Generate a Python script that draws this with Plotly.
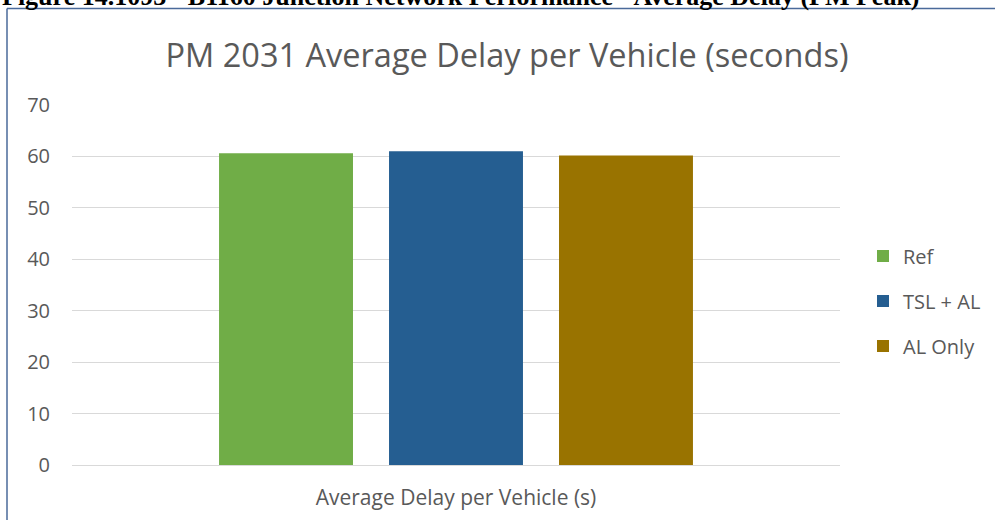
import plotly.graph_objects as go

categories = ["Average Delay per Vehicle (s)"]
series_names = ["Ref", "TSL + AL", "AL Only"]
series_values = [[60.6], [61.0], [60.2]]
colors = ["#70ad47", "#255e91", "#997300"]
y_ticks = [0, 10, 20, 30, 40, 50, 60, 70]

W, H = 995, 520
L, R, T, B = 72, 155, 105, 55
PW, PH = W - L - R, H - T - B

def px(x):
    return (x - L) / PW

def py(y):
    return (H - B - y) / PH

fig = go.Figure()
for name, vals, col in zip(series_names, series_values, colors):
    fig.add_trace(go.Bar(x=categories, y=vals, name=name, marker_color=col,
                         marker_line_width=0, legendgroup=name))

font_fam = "Open Sans, Noto Sans, sans-serif"
fig.update_layout(
    width=W, height=H,
    margin=dict(l=L, r=R, t=T, b=B, autoexpand=False),
    paper_bgcolor="white", plot_bgcolor="white",
    barmode="group", bargap=0.336, bargroupgap=0.212,
    title=dict(text="PM 2031 Average Delay per Vehicle (seconds)",
               x=507 / W, xanchor="center", y=1 - 56 / H, yanchor="middle",
               font=dict(family=font_fam, size=32.5, color="#595959")),
    font=dict(family=font_fam, color="#595959"),
    legend=dict(x=px(863), xanchor="left", y=py(301), yanchor="middle",
                font=dict(size=20, color="#595959"), tracegroupgap=16,
                itemwidth=30),
    showlegend=True,
)
fig.update_yaxes(range=[0, 70], tickvals=y_ticks, showgrid=True, automargin=False,
                 gridcolor="#d9d9d9", gridwidth=1, zeroline=True,
                 zerolinecolor="#d9d9d9", zerolinewidth=1, showline=False,
                 ticks="", tickfont=dict(size=20, color="#595959"),
                 ticklabelstandoff=21)
fig.update_xaxes(showline=False, ticks="", automargin=False,
                 tickfont=dict(size=21, color="#595959"),
                 ticklabelstandoff=18)

# document frame lines
fig.add_shape(type="line", xref="paper", yref="paper",
              x0=px(7), x1=px(7), y0=py(8.5), y1=py(530),
              line=dict(color="#4a6a9a", width=1.5))
fig.add_shape(type="line", xref="paper", yref="paper",
              x0=px(7), x1=px(1000), y0=py(8.5), y1=py(8.5),
              line=dict(color="#4a6a9a", width=1.5))

# clipped caption above the chart frame
fig.add_annotation(text="<b>Figure 14.1093 - B1160 Junction Network Performance - Average Delay (PM Peak)</b>",
                   xref="paper", yref="paper", x=px(0), xanchor="left",
                   y=py(-3.5), yanchor="middle", showarrow=False,
                   font=dict(family="Liberation Serif, DejaVu Serif, serif", size=26, color="black"))

fig.write_html("out.html",
               post_script="document.body.style.margin='0';document.body.style.overflow='hidden';",
               config={"displayModeBar": False})
